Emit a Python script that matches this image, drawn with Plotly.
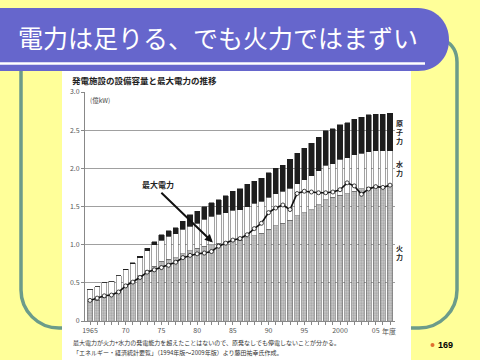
import plotly.graph_objects as go

# ---------------- data (億kW) ----------------
years = list(range(1965, 2008))
thermal = [0.25, 0.27, 0.31, 0.33, 0.38, 0.45, 0.52, 0.59, 0.66, 0.72,
           0.78, 0.81, 0.83, 0.88, 0.92, 0.95, 0.98, 1.00, 1.02, 1.03,
           1.05, 1.06, 1.09, 1.12, 1.15, 1.20, 1.25, 1.28, 1.32, 1.38,
           1.42, 1.46, 1.52, 1.59, 1.62, 1.65, 1.67, 1.70, 1.73, 1.75,
           1.76, 1.76, 1.77]
hydro = [0.16, 0.18, 0.19, 0.19, 0.21, 0.22, 0.23, 0.24, 0.26, 0.28,
         0.28, 0.30, 0.31, 0.32, 0.32, 0.33, 0.35, 0.37, 0.38, 0.39,
         0.40, 0.40, 0.41, 0.42, 0.42, 0.42, 0.42, 0.42, 0.42, 0.42,
         0.43, 0.44, 0.45, 0.45, 0.44, 0.47, 0.47, 0.48, 0.47, 0.47,
         0.47, 0.47, 0.46]
nuclear = [0.00, 0.00, 0.00, 0.00, 0.00, 0.01, 0.01, 0.02, 0.03, 0.04,
           0.07, 0.07, 0.08, 0.11, 0.15, 0.16, 0.17, 0.18, 0.19, 0.22,
           0.25, 0.27, 0.29, 0.29, 0.30, 0.32, 0.33, 0.34, 0.38, 0.40,
           0.41, 0.43, 0.44, 0.45, 0.46, 0.45, 0.46, 0.46, 0.47, 0.48,
           0.48, 0.48, 0.49]
peak = [0.27, 0.30, 0.33, 0.34, 0.38, 0.46, 0.51, 0.57, 0.64, 0.67,
        0.70, 0.73, 0.77, 0.83, 0.86, 0.88, 0.89, 0.91, 0.98, 1.02,
        1.06, 1.08, 1.13, 1.21, 1.28, 1.42, 1.48, 1.52, 1.46, 1.67,
        1.70, 1.69, 1.68, 1.68, 1.69, 1.72, 1.81, 1.77, 1.66, 1.73,
        1.76, 1.75, 1.78]

x_labels = {1965: "1965", 1970: "70", 1975: "75", 1980: "80", 1985: "85",
            1990: "90", 1995: "95", 2000: "2000", 2005: "05"}
y_ticks = [0, 0.5, 1.0, 1.5, 2.0, 2.5, 3.0]
y_ticktext = ["0", "0.5", "1.0", "1.5", "2.0", "2.5", "3.0"]

slide_title = "電力は足りる、でも火力ではまずい"
chart_title = "発電施設の設備容量と最大電力の推移"
unit_label = "(億kW)"
note1 = "最大電力が火力+水力の発電能力を超えたことはないので、原発なしでも停電しないことが分かる。"
note2 = "「エネルギー・経済統計要覧」（1994年版～2009年版）より藤田祐幸氏作成。"
page_no = "169"

# ---------------- helpers ----------------
W, H = 480, 360
FONT = "Noto Sans CJK JP"


def px(x):
    return x / W


def py(y):
    return 1 - y / H


def P(x, y):
    return f"{px(x):.5f},{py(y):.5f}"


# ---------------- figure ----------------
fig = go.Figure()
bar_w = 0.72
fig.add_bar(x=years, y=thermal, name="火力", width=bar_w,
            marker=dict(color="#c4c4c4", line=dict(color="#666666", width=0.6),
                        pattern=dict(shape=".", fgcolor="#7a7a7a", bgcolor="#cacaca",
                                     size=2.5, solidity=0.45)))
fig.add_bar(x=years, y=hydro, name="水力", width=bar_w,
            marker=dict(color="white", line=dict(color="#666666", width=0.6)))
fig.add_bar(x=years, y=nuclear, name="原子力", width=bar_w,
            marker=dict(color="#1e1e1e", line=dict(color="#1e1e1e", width=0.5)))
fig.add_scatter(x=years, y=peak, mode="lines+markers", name="最大電力",
                line=dict(color="#111111", width=1.6),
                marker=dict(symbol="circle", size=4, color="white",
                            line=dict(color="#111111", width=0.8)))

# ---------------- slide decoration shapes ----------------
teal_path = ("M " + P(21, 50) + " L " + P(21, 290) +
             " C " + P(21, 311) + " " + P(38, 328) + " " + P(59, 328) +
             " L " + P(419, 328) +
             " C " + P(440, 328) + " " + P(457, 311) + " " + P(457, 290) +
             " L " + P(457, 62) +
             " C " + P(457, 52) + " " + P(452, 44) + " " + P(444, 40))

banner_path = ("M " + P(-5, 8) + " L " + P(418, 8) +
               " C " + P(436, 8) + " " + P(449, 22) + " " + P(449, 40) +
               " C " + P(449, 58) + " " + P(436, 71) + " " + P(418, 71) +
               " L " + P(-5, 71) + " Z")

shapes = [
    dict(type="path", path=teal_path, xref="paper", yref="paper",
         line=dict(color="#6c9c8a", width=3.5), layer="below"),
    dict(type="rect", xref="paper", yref="paper", x0=px(62), x1=px(411),
         y0=py(68), y1=py(362), fillcolor="white", line=dict(width=0), layer="below"),
    dict(type="path", path=banner_path, xref="paper", yref="paper",
         fillcolor="#6666cc", line=dict(width=0), layer="below"),
    dict(type="line", xref="paper", yref="paper", x0=px(-2), x1=px(425),
         y0=py(63.5), y1=py(63.5), line=dict(color="white", width=2.5), layer="below"),
    dict(type="circle", xref="paper", yref="paper", x0=px(430.5), x1=px(434.5),
         y0=py(347), y1=py(343), fillcolor="#e07030", line=dict(width=0), layer="below"),
]

# ---------------- annotations ----------------
ann = []
ann.append(dict(text=slide_title, x=px(16), y=py(37), xref="paper", yref="paper",
                xanchor="left", yanchor="middle", showarrow=False,
                font=dict(family=FONT, size=25, color="white")))
ann.append(dict(text="<b>" + chart_title + "</b>", x=px(70), y=py(80), xref="paper",
                yref="paper", xanchor="left", yanchor="middle", showarrow=False,
                font=dict(family=FONT, size=8.5, color="#222222")))
ann.append(dict(text=unit_label, x=px(88), y=py(100), xref="paper", yref="paper",
                xanchor="left", yanchor="middle", showarrow=False,
                font=dict(family=FONT, size=6.5, color="#444444")))
for txt, yc in [("原<br>子<br>力", 132), ("水<br>力", 168), ("火<br>力", 253)]:
    ann.append(dict(text="<b>" + txt + "</b>", x=px(399), y=py(yc), xref="paper",
                    yref="paper", xanchor="center", yanchor="middle", showarrow=False,
                    font=dict(family=FONT, size=7, color="#222222")))
ann.append(dict(text="<b>最大電力</b>", x=px(158), y=py(185), xref="paper", yref="paper",
                xanchor="center", yanchor="middle", showarrow=False,
                font=dict(family=FONT, size=8, color="#222222")))
ann.append(dict(text="", x=1982.2, y=1.03, xref="x", yref="y", showarrow=True,
                ax=-53, ay=-51, arrowhead=2, arrowsize=0.8, arrowwidth=2,
                arrowcolor="#111111", standoff=0))
ann.append(dict(text="年度", x=px(389), y=py(331), xref="paper", yref="paper",
                xanchor="center", yanchor="middle", showarrow=False,
                font=dict(family=FONT, size=7, color="#555555")))
ann.append(dict(text=note1, x=px(71), y=py(342), xref="paper", yref="paper",
                xanchor="left", yanchor="middle", showarrow=False,
                font=dict(family=FONT, size=6, color="#333333")))
ann.append(dict(text=note2, x=px(71), y=py(352), xref="paper", yref="paper",
                xanchor="left", yanchor="middle", showarrow=False,
                font=dict(family=FONT, size=6, color="#333333")))
ann.append(dict(text="<b>" + page_no + "</b>", x=px(436), y=py(345), xref="paper",
                yref="paper", xanchor="left", yanchor="middle", showarrow=False,
                font=dict(family="Liberation Sans", size=9, color="black")))

fig.update_layout(
    width=W, height=H,
    margin=dict(l=0, r=0, t=0, b=0, pad=0),
    paper_bgcolor="#ffff99",
    plot_bgcolor="rgba(0,0,0,0)",
    barmode="stack",
    bargap=0.25,
    showlegend=False,
    shapes=shapes,
    annotations=ann,
    font=dict(family=FONT),
    xaxis=dict(domain=[px(85), px(395)], range=[1964.3, 2007.7],
               tickmode="array", tickvals=years,
               ticktext=[x_labels.get(y, "") for y in years],
               ticks="outside", ticklen=3, tickcolor="#888888", tickwidth=0.8,
               showline=True, linecolor="#888888", linewidth=0.8,
               showgrid=False, zeroline=False, automargin=False,
               tickfont=dict(size=7, color="#555555")),
    yaxis=dict(domain=[py(321), py(92)], range=[0, 3.0],
               tickmode="array", tickvals=y_ticks, ticktext=y_ticktext,
               ticks="outside", ticklen=3, tickcolor="#888888", tickwidth=0.8,
               showline=True, linecolor="#888888", linewidth=0.8,
               showgrid=True, gridcolor="#a0a0a0", gridwidth=0.8,
               zeroline=False, automargin=False,
               tickfont=dict(size=7, color="#555555")),
)

fig.write_html("out.html", config={"displayModeBar": False},
               post_script="document.body.style.margin='0';document.body.style.overflow='hidden';")
